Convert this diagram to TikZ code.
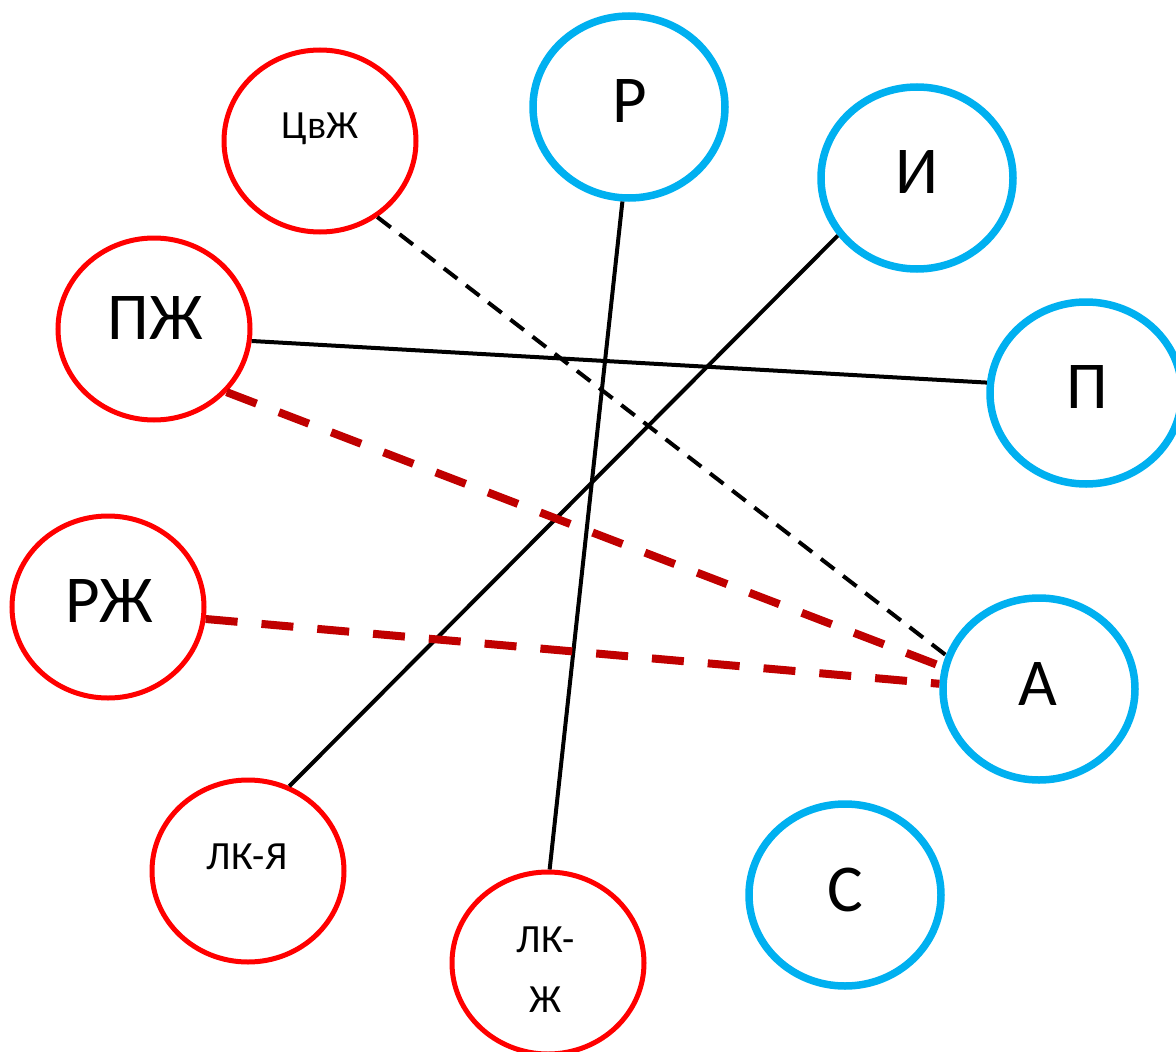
\documentclass[tikz,border=0pt]{standalone}
\usepackage{fontspec}
\setmainfont{Carlito}
\usetikzlibrary{shapes.geometric}
\definecolor{cyanblue}{HTML}{00B0F0}
\definecolor{darkred}{HTML}{C00000}
\begin{document}
\begin{tikzpicture}[x=1pt,y=-1pt,
  circ/.style={ellipse, minimum width=192pt, minimum height=182pt, inner sep=0pt},
  redc/.style={circ, draw=red, line width=5pt},
  bluec/.style={circ, draw=cyanblue, line width=7.5pt},
  big/.style={anchor=base, inner sep=0pt, font=\fontsize{67}{80}\selectfont},
  small/.style={anchor=base, inner sep=0pt, font=\fontsize{40}{48}\selectfont},
  conn/.style={line width=4pt, draw=black},
  bdash/.style={conn, dash pattern=on 17pt off 11pt},
  rdash/.style={line width=8pt, draw=darkred, dash pattern=on 32pt off 24pt}]
\useasboundingbox (0,0) rectangle (1176,1052);

% ellipses
\node[redc]  (cvzh) at (320,141) {};
\node[bluec] (r)    at (629,107) {};
\node[bluec] (i)    at (917,178) {};
\node[redc]  (pzh)  at (154,329) {};
\node[bluec] (p)    at (1086,393) {};
\node[redc]  (rzh)  at (108,607) {};
\node[bluec] (a)    at (1039,689) {};
\node[redc]  (lkya) at (248,871) {};
\node[redc]  (lkzh) at (548,963) {};
\node[bluec] (s)    at (845,895) {};

% labels
\node[small] (tcvzh) at (320,138) {ЦвЖ};
\node[big]   (tr)    at (630,122) {Р};
\node[big]   (ti)    at (917,193) {И};
\node[big]   (tpzh)  at (155,339) {ПЖ};
\node[big]   (tp)    at (1087,408) {П};
\node[big]   (trzh)  at (109,622) {РЖ};
\node[big]   (ta)    at (1038,705) {А};
\node[small] (tlkya) at (247,869) {ЛК-Я};
\node[small] (tlk)   at (546,952) {ЛК-};
\node[small] (tzh)   at (546,1012) {Ж};
\node[big]   (ts)    at (845,911) {С};

% connectors
\draw[bdash] (cvzh.-53.7) -- (a.160.7);
\draw[conn] (r.-94.4) -- (lkzh.89.4);
\draw[conn] (i.-144) -- (lkya.64.8);
\draw[conn] (pzh.-7.7) -- (p.174.7);
\draw[rdash] (pzh.-41) -- (a.167.5);
\draw[rdash] (rzh.-7.7) -- (a.177.7);
\end{tikzpicture}
\end{document}
